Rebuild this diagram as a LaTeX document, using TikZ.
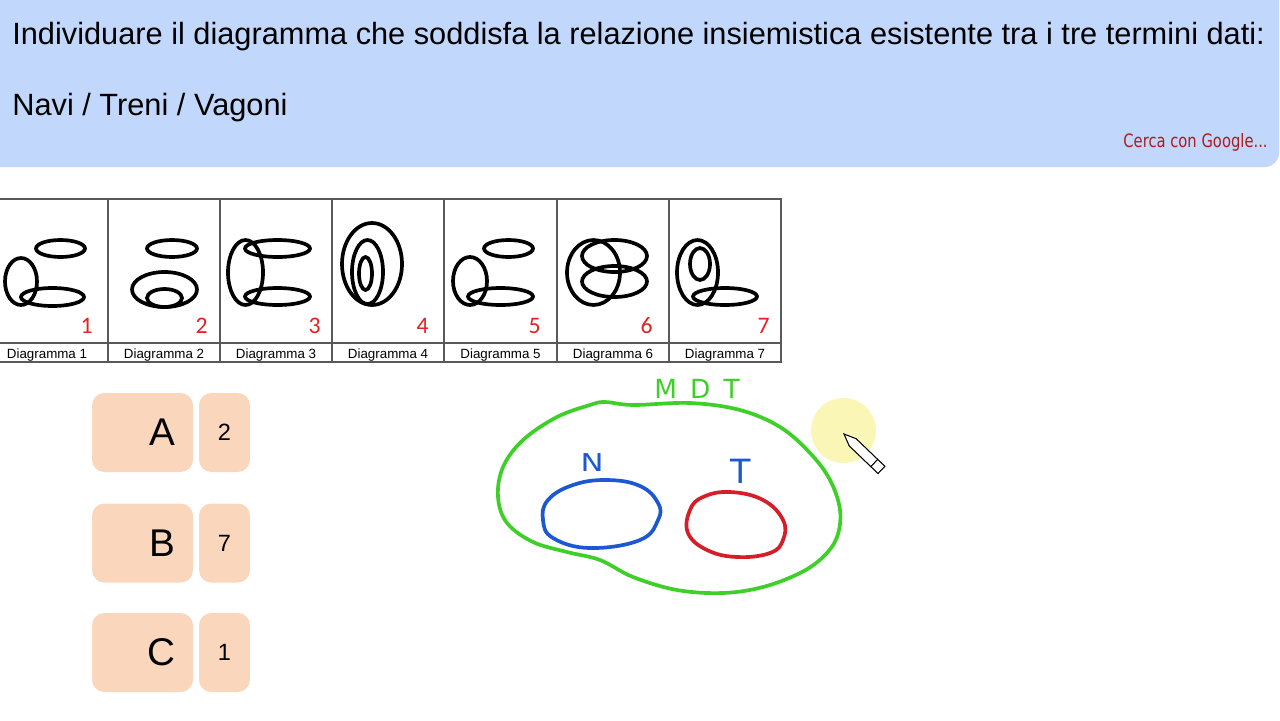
\documentclass[tikz,border=0pt]{standalone}
\usepackage{fontspec}
\setmainfont{Liberation Sans}
\newfontfamily\calfont{Carlito}
\newfontfamily\handfont{DejaVu Sans}
\newfontfamily\narrowfont[FakeStretch=0.8]{DejaVu Sans}
\usetikzlibrary{shapes}
\definecolor{bandblue}{RGB}{193,215,251}
\definecolor{peach}{RGB}{250,214,189}
\definecolor{numred}{RGB}{228,34,34}
\definecolor{linkred}{RGB}{170,30,30}
\definecolor{penGreen}{RGB}{62,208,40}
\definecolor{penBlue}{RGB}{28,88,210}
\definecolor{penRed}{RGB}{212,30,40}
\definecolor{spot}{RGB}{250,246,170}
\tikzstyle{venn}=[draw=black,line width=2.1pt]
\tikzstyle{pen}=[line width=2.1pt,line cap=round,line join=round]
\tikzstyle{answerbox}=[rectangle,rounded corners=7pt,fill=peach,minimum height=1.58cm,inner sep=0pt]
\tikzstyle{caption}=[font=\fontsize{7.6}{8}\selectfont,anchor=base,inner sep=0pt]
\tikzstyle{cellnum}=[font=\calfont\fontsize{13.5}{14}\selectfont,text=numred,anchor=base east,inner sep=0pt]

\begin{document}
\begin{tikzpicture}[x=0.02cm,y=-0.02cm]

    \fill[white] (0,0) rectangle (1280,720);
    \useasboundingbox (0,0) rectangle (1280,720);

    % question band
    \fill[bandblue, rounded corners=8pt] (-20,-20) rectangle (1279,167);
    \node[anchor=base west, inner sep=0pt, font=\fontsize{17.5}{20}\selectfont] (question) at (12,44)
        {Individuare il diagramma che soddisfa la relazione insiemistica esistente tra i tre termini dati:};
    \node[anchor=base west, inner sep=0pt, font=\fontsize{17.5}{20}\selectfont] (terms) at (12,115) {Navi / Treni / Vagoni};
    \node[anchor=base east, inner sep=0pt, text=linkred, font=\narrowfont\fontsize{10.5}{12}\selectfont] (google) at (1268,147) {Cerca con Google...};

    % table of diagrams
    \draw[gray!70!black, line width=0.9pt] (-2,199) rectangle (781,362);
    \draw[gray!70!black, line width=0.9pt] (-2,343) -- (781,343);
    \foreach \x in {108,220,332,444,557,669}
        \draw[gray!70!black, line width=0.9pt] (\x,199) -- (\x,362);

    \foreach \i/\cx/\nx in {1/47/93, 2/164/208, 3/276/321, 4/388/429, 5/500.5/541, 6/613/653, 7/725/770}
    {
        \node[caption] (cap\i) at (\cx,358) {Diagramma \i};
        \node[cellnum] (num\i) at (\nx,333) {\i};
    }

    % ellipses of the seven diagrams
    \foreach \cx/\cy/\rx/\ry in {60.5/248.5/24.5/8.5, 21/281.5/16/23.5, 52.5/297/31.5/9,
                                 172/248.5/25/8.5, 164.5/289.5/32.5/17.5, 164.5/298/17.5/9,
                                 245.5/272.5/17.5/32.5, 277.5/248.5/32.5/8.5, 277.5/296.5/32.5/8.5,
                                 372/264/30/41, 367.5/272/15.5/32, 365.5/273.5/6.5/16.5,
                                 508.5/248.5/24.5/8.5, 470/281/17/24, 500.5/296.5/32.5/8.5,
                                 593.5/272.5/26.5/32.5, 614.5/256/32.5/16, 614.5/281.5/32.5/15.5,
                                 697.5/272.5/20.5/32.5, 700/264/10/16, 725/296.5/32/8.5}
        \draw[venn] (\cx,\cy) ellipse [x radius=\rx, y radius=\ry];

    % answers
    \foreach \name/\y/\val in {A/432.5/2, B/543/7, C/652.5/1}
    {
        \node[answerbox, text width=1.3cm, inner xsep=0.36cm, align=right, font=\fontsize{22}{24}\selectfont] (box\name) at (142.5,\y) {\name};
        \node[answerbox, minimum width=1.02cm, font=\fontsize{13.4}{15}\selectfont] (val\name) at (224.5,\y) {\val};
    }

    % hand drawing
    \draw[pen, penGreen] plot[smooth cycle, tension=0.6] coordinates {
        (605,402) (633,405) (690,403) (740,410) (780,427) (810,453) (830,480) (840,510) (837,537)
        (823,557) (800,573) (763,587) (723,593) (677,590) (633,577) (600,560) (567,552) (533,542)
        (507,523) (498,497) (503,467) (523,440) (557,417) (590,405)};
    \draw[pen, penBlue] plot[smooth cycle, tension=0.7] coordinates {
        (607,480) (640,486) (658,503) (658,520) (640,540) (590,548) (553,538) (543,520) (548,500) (573,485)};
    \draw[pen, penRed] plot[smooth cycle, tension=0.7] coordinates {
        (703,497) (730,492) (763,500) (783,520) (783,540) (770,553) (737,557) (707,550) (688,533) (690,510)};

    \node[text=penGreen, font=\handfont\fontsize{15}{17}\selectfont, inner sep=0pt] (mdt) at (697,389)
        {M\hspace{0.5em}D\hspace{0.5em}T};
    \node[text=penBlue, font=\handfont\fontsize{14}{16}\selectfont, inner sep=0pt, xscale=1.25] (setN) at (592,463) {N};
    \node[text=penBlue, font=\handfont\fontsize{19}{21}\selectfont, inner sep=0pt] (setT) at (741,471) {T};

    % pointer
    \fill[spot, opacity=0.85] (843.5,430.5) circle (32.5);
    \draw[black, fill=white, line width=0.6pt] (844,434) -- (856.1,438.7) -- (877.7,459.4) -- (884.9,466.3)
        -- (878,473.5) -- (870.8,466.6) -- (849.2,445.9) -- cycle;
    \draw[black, line width=0.6pt] (877.7,459.4) -- (870.8,466.6);

\end{tikzpicture}
\end{document}
